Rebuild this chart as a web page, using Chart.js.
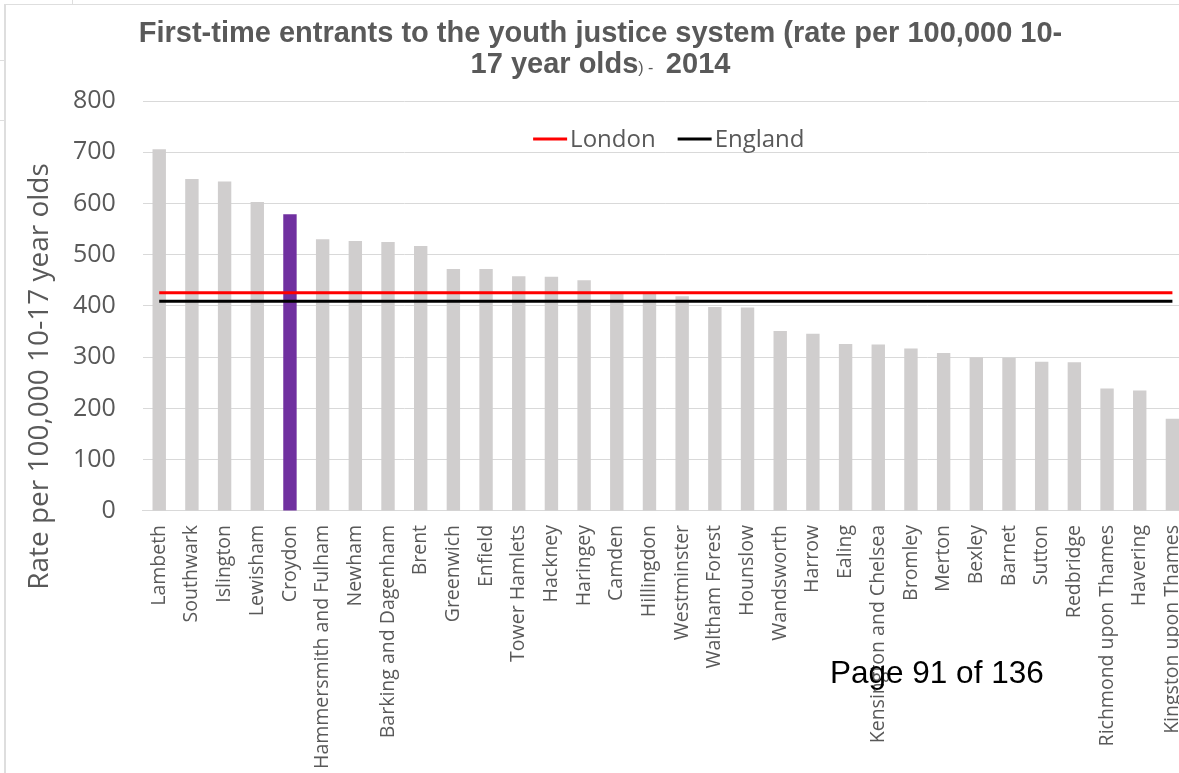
<!DOCTYPE html>
<html>
<head>
<meta charset="utf-8">
<script src="https://cdn.jsdelivr.net/npm/chart.js@4.4.0/dist/chart.umd.min.js"></script>
<style>
    html, body { margin: 0; padding: 0; background: #fff; overflow: hidden; }
    #page { position: relative; width: 1179px; height: 773px; overflow: hidden; background: #fff; }
    #chartBox { position: absolute; left: 0; top: 0; width: 1210px; height: 773px; }
    .edge { position: absolute; background: #dedede; }
    #pageNo {
        position: absolute; left: 830px; top: 657px;
        font-family: "Liberation Sans", Arial, sans-serif; font-size: 31.5px; line-height: 31px;
        color: #000; white-space: nowrap;
    }
</style>
</head>
<body>
<div id="page">
    <div class="edge" style="left:4px; top:4px; width:2px; height:769px;"></div>
    <div class="edge" style="left:4px; top:4px; width:1175px; height:1px;"></div>
    <div class="edge" style="left:72px; top:0; width:1px; height:4px;"></div>
    <div class="edge" style="left:0; top:60px; width:4px; height:1px;"></div>
    <div class="edge" style="left:0; top:120px; width:4px; height:1px;"></div>
    <div id="chartBox"><canvas id="fteChart" width="1210" height="773"></canvas></div>
    <div id="pageNo">Page 91 of 136</div>
</div>
<script>
// Data
const boroughs = [
    'Lambeth', 'Southwark', 'Islington', 'Lewisham', 'Croydon',
    'Hammersmith and Fulham', 'Newham', 'Barking and Dagenham', 'Brent', 'Greenwich',
    'Enfield', 'Tower Hamlets', 'Hackney', 'Haringey', 'Camden',
    'Hillingdon', 'Westminster', 'Waltham Forest', 'Hounslow', 'Wandsworth',
    'Harrow', 'Ealing', 'Kensington and Chelsea', 'Bromley', 'Merton',
    'Bexley', 'Barnet', 'Sutton', 'Redbridge', 'Richmond upon Thames',
    'Havering', 'Kingston upon Thames'
];
const rates = [
    706, 648, 643, 603, 579,
    530, 527, 525, 517, 472,
    472, 458, 457, 450, 424,
    424, 419, 398, 397, 351,
    346, 326, 325, 317, 308,
    300, 299, 291, 290, 239,
    235, 180
];
const londonRate = [
    426, 426, 426, 426, 426, 426, 426, 426, 426, 426, 426, 426, 426, 426, 426, 426,
    426, 426, 426, 426, 426, 426, 426, 426, 426, 426, 426, 426, 426, 426, 426, 426
];
const englandRate = [
    409, 409, 409, 409, 409, 409, 409, 409, 409, 409, 409, 409, 409, 409, 409, 409,
    409, 409, 409, 409, 409, 409, 409, 409, 409, 409, 409, 409, 409, 409, 409, 409
];
const yMin = 0;
const yMax = 800;
const yStep = 100;
const highlighted = 'Croydon';

const titleLine1 = 'First-time entrants to the youth justice system (rate per 100,000 10-';
const titleLine2 = [['17 year olds', 'big'], [') - ', 'small'], [' 2014', 'big']];
const yTitle = 'Rate per 100,000 10-17 year olds';

const TEXT_GREY = '#595959';
const BAR_GREY = '#d0cece';
const PURPLE = '#7030a0';

// title, axis title and legend drawn inside the plot like the Excel original
const extrasPlugin = {
    id: 'extras',
    afterDraw(chart) {
        const ctx = chart.ctx;
        const area = chart.chartArea;
        ctx.save();
        ctx.fillStyle = TEXT_GREY;

        // chart title
        const bigFont = 'bold 29px "Liberation Sans", Arial, sans-serif';
        const smallFont = '16px "Liberation Sans", Arial, sans-serif';
        ctx.textBaseline = 'alphabetic';
        ctx.textAlign = 'center';
        ctx.font = bigFont;
        ctx.fillText(titleLine1, 600.5, 42);
        let total = 0;
        const widths = titleLine2.map(([txt, size]) => {
            ctx.font = size === 'big' ? bigFont : smallFont;
            const w = ctx.measureText(txt).width;
            total += w;
            return w;
        });
        let x = 600.5 - total / 2;
        ctx.textAlign = 'left';
        titleLine2.forEach(([txt, size], i) => {
            ctx.font = size === 'big' ? bigFont : smallFont;
            ctx.fillText(txt, x, 73);
            x += widths[i];
        });

        // y axis title
        ctx.save();
        ctx.translate(48, 376.5);
        ctx.rotate(-Math.PI / 2);
        ctx.textAlign = 'center';
        ctx.font = '28px "Open Sans", sans-serif';
        ctx.fillText(yTitle, 0, 0);
        ctx.restore();

        // legend (line datasets only)
        const items = chart.data.datasets.filter(d => d.type === 'line');
        ctx.font = '24px "Open Sans", sans-serif';
        ctx.textBaseline = 'middle';
        const lineLen = 34, gap = 3, itemGap = 22;
        let legendW = 0;
        items.forEach((d, i) => {
            legendW += lineLen + gap + ctx.measureText(d.label).width + (i ? itemGap : 0);
        });
        let lx = (area.left + area.right) / 2 + 3 - legendW / 2;
        const ly = 139;
        items.forEach(d => {
            ctx.strokeStyle = d.borderColor;
            ctx.lineWidth = 3;
            ctx.beginPath();
            ctx.moveTo(lx, ly);
            ctx.lineTo(lx + lineLen, ly);
            ctx.stroke();
            lx += lineLen + gap;
            ctx.fillText(d.label, lx, ly + 1);
            lx += ctx.measureText(d.label).width + itemGap;
        });
        ctx.restore();
    }
};

new Chart(document.getElementById('fteChart'), {
    data: {
        labels: boroughs,
        datasets: [
            { type: 'line', label: 'London', data: londonRate, borderColor: '#ff0000', borderWidth: 3, pointRadius: 0, order: 0 },
            { type: 'line', label: 'England', data: englandRate, borderColor: '#000000', borderWidth: 3, pointRadius: 0, order: 1 },
            {
                type: 'bar', label: 'Rate', data: rates, order: 2,
                backgroundColor: boroughs.map(b => b === highlighted ? PURPLE : BAR_GREY),
                categoryPercentage: 1, barPercentage: 0.41
            }
        ]
    },
    options: {
        responsive: false,
        animation: false,
        layout: { padding: { top: 101, left: 46, right: 12, bottom: -10 } },
        plugins: {
            legend: { display: false },
            title: { display: false },
            tooltip: { enabled: false }
        },
        scales: {
            x: {
                offset: true,
                grid: { display: false, drawTicks: false },
                border: { color: '#d9d9d9', width: 1 },
                ticks: {
                    autoSkip: false, minRotation: 90, maxRotation: 90, padding: 14,
                    color: TEXT_GREY, font: { family: 'Open Sans', size: 19.5 }
                }
            },
            y: {
                min: yMin, max: yMax,
                grid: { color: '#d9d9d9', drawTicks: false },
                border: { display: false },
                ticks: {
                    stepSize: yStep, padding: 27,
                    color: TEXT_GREY, font: { family: 'Open Sans', size: 25 }
                }
            }
        }
    },
    plugins: [extrasPlugin]
});
</script>
</body>
</html>
